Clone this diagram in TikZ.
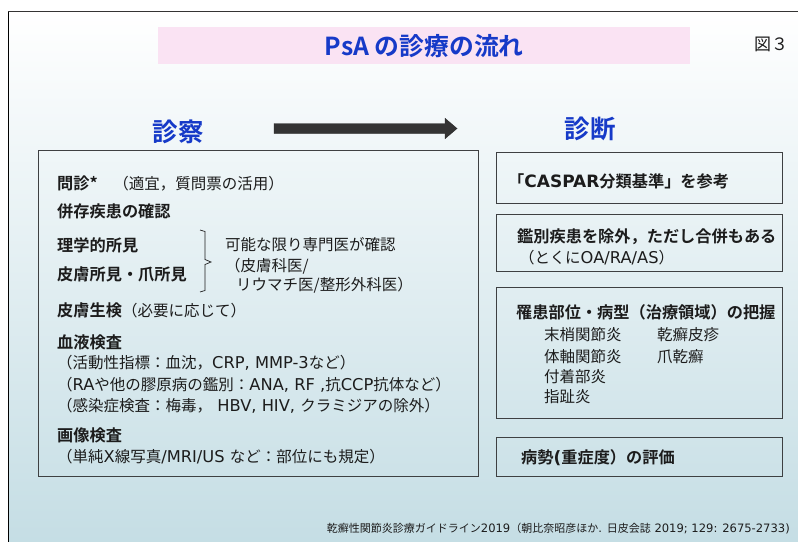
\documentclass[tikz,border=0pt]{standalone}
\usepackage{fontspec}
\setmainfont{Noto Sans CJK JP}[BoldFont={Noto Sans CJK JP Bold}]
\newfontfamily\latinfont{DejaVu Sans}[Scale=1.05]
\newcommand\lt[1]{{\latinfont #1}}
\definecolor{bgblue}{RGB}{196,221,228}
\definecolor{bgmid}{RGB}{230,239,243}
\definecolor{ttlblue}{RGB}{22,58,200}
\definecolor{pinkbg}{RGB}{250,227,243}
\definecolor{txt}{RGB}{28,28,28}
\definecolor{boxline}{RGB}{62,64,66}
\definecolor{arrowgray}{RGB}{52,52,52}
\newcommand\hd{\fontsize{16.2}{19}\selectfont\bfseries}
\tikzset{
  body/.style={anchor=west, inner sep=0pt, text=txt, font=\fontsize{15.5}{18}\selectfont},
  head/.style={body, font=\hd},
  panel/.style={draw=boxline, line width=1.4pt, rectangle, inner sep=0pt, anchor=north west},
  bigtitle/.style={inner sep=0pt, text=ttlblue, font=\fontsize{25.5}{28}\selectfont\bfseries},
}
\begin{document}
\begin{tikzpicture}[x=1pt,y=-1pt]
\useasboundingbox (0,0) rectangle (798,541);
\fill[white] (0,0) rectangle (798,541);
% background gradient
\shade[top color=white, middle color=bgmid, bottom color=bgblue] (8,11) rectangle (810,550);
\draw[black, line width=1.5pt] (8.3,550) -- (8.3,11);
\draw[arrowgray, line width=1pt] (8.3,11) -- (810,11);

% title
\node[fill=pinkbg, inner sep=0pt, minimum width=532pt, minimum height=37pt, anchor=north west] (titlebox) at (158,27) {};
\node[inner sep=0pt, text=ttlblue, font=\fontsize{24.8}{28}\selectfont\bfseries] (title) at (titlebox.center) {PsA の診療の流れ};
\node[inner sep=0pt, text=txt, font=\fontsize{17}{20}\selectfont, anchor=west] (fig) at (754,44) {図３};

% section titles
\node[bigtitle] (shinsatsu) at (178,132) {診察};
\node[bigtitle] (shindan) at (590,129) {診断};

% block arrow
\coordinate (arrS) at (274,128.5);
\coordinate (arrE) at (457,128.5);
\fill[arrowgray, draw=black!85, line width=0.4pt]
  (274,123.5) -- (445,123.5) -- (445,118.3) -- (arrE) -- (445,138.7) -- (445,133.5) -- (274,133.5) -- cycle;

% left panel
\node[panel, minimum width=439.5pt, minimum height=326pt] (leftbox) at (38,150) {};
\node[body] (l1) at (57,183) {{\hd 問診*}　（適宜，質問票の活用）};
\node[head] (l2) at (57,211) {併存疾患の確認};
\node[head] (l3) at (57,245) {理学的所見};
\node[head] (l4) at (57,274) {皮膚所見・爪所見};
\coordinate (brT) at (200,230);
\coordinate (brM) at (211,262);
\coordinate (brB) at (200,292);
\draw[txt, line width=0.7pt] (brT) -- (205,231.5) -- (205,259.5) -- (brM) -- (205,264.5) -- (205,290.5) -- (brB);
\node[body] (r1) at (225,245) {可能な限り専門医が確認};
\node[body] (r2) at (225,266) {（皮膚科医/};
\node[body] (r3) at (236,285) {リウマチ医/整形外科医）};
\node[body] (l5) at (57,310) {{\hd 皮膚生検}（必要に応じて）};
\node[head] (l6) at (57,342) {血液検査};
\node[body] (l7) at (57,363) {（活動性指標：血沈，\lt{CRP, MMP-3}など）};
\node[body] (l8) at (57,385) {（\lt{RA}や他の膠原病の鑑別：\lt{ANA, RF ,}抗\lt{CCP}抗体など）};
\node[body] (l9) at (57,406) {（感染症検査：梅毒，\lt{ HBV, HIV, }クラミジアの除外）};
\node[head] (l10) at (57,435) {画像検査};
\node[body] (l11) at (57,457) {（単純\lt{X}線写真\lt{/MRI/US }など：部位にも規定）};

% right panels
\node[panel, minimum width=286pt, minimum height=51pt] (rb1) at (496,152) {};
\node[head] (rb1t) at (508,181) {「\lt{CASPAR}分類基準」を参考};
\node[panel, minimum width=286pt, minimum height=57pt] (rb2) at (496,214) {};
\node[head] (rb2t) at (517,237) {鑑別疾患を除外，ただし合併もある};
\node[body] (rb2s) at (519,258) {（とくに\lt{OA/RA/AS}）};
\node[panel, minimum width=286pt, minimum height=131pt] (rb3) at (496,287) {};
\node[head] (rb3t) at (516,312) {罹患部位・病型（治療領域）の把握};
\node[body] (c1) at (544,335) {末梢関節炎};
\node[body] (c2) at (544,357) {体軸関節炎};
\node[body] (c3) at (544,377) {付着部炎};
\node[body] (c4) at (544,397) {指趾炎};
\node[body] (d1) at (657,335) {乾癬皮疹};
\node[body] (d2) at (657,357) {爪乾癬};
\node[panel, minimum width=286pt, minimum height=39pt] (rb4) at (496,437) {};
\node[head] (rb4t) at (521,458) {病勢\lt{(}重症度）の評価};

% footer
\node[inner sep=0pt, anchor=east, text=txt, font=\fontsize{11}{14}\selectfont] (foot) at (790,529) {乾癬性関節炎診療ガイドライン\lt{2019}（朝比奈昭彦ほか\lt{. }日皮会誌\lt{ 2019; 129: 2675-2733)}};
\end{tikzpicture}
\end{document}
